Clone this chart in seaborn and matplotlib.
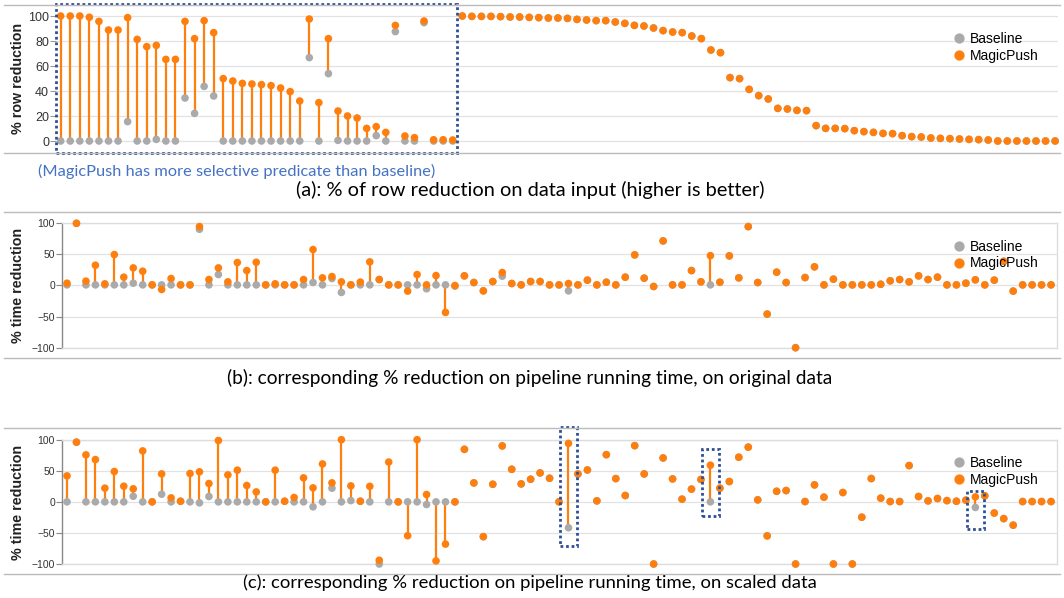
import numpy as np
import pandas as pd
import matplotlib.pyplot as plt
import seaborn as sns
from matplotlib.lines import Line2D
from matplotlib.patches import Rectangle

# ---- values (one entry per pipeline, 105 pipelines) ----
# (a) % row reduction
row_magic = [100, 100, 100, 99, 95.7, 88.8, 88.8, 98.7, 81.3, 75.5,
             76.5, 65.3, 65.3, 95.7, 81.9, 96.3, 86.7, 49.9, 48, 46.1,
             45.6, 45.1, 44.3, 42.4, 39.5, 32, 97.6, 30.7, 81.9, 24,
             20, 18.4, 10.1, 11.5, 6.9, 92.5, 4, 2.7, 96, 1,
             1, 0.8,
             100, 99.7, 99.7, 99.7, 99.5, 99.2, 99.2, 98.9, 98.7, 98.4,
             98.4, 98.1, 97.3, 96.8, 96.3, 96.3, 95.2, 94.1, 92.5, 92,
             90.4, 88.3, 87.2, 86.7, 84, 81.9, 72.8, 70.7, 50.7, 49.9,
             41.3, 36.3, 33.6, 26.1, 25.6, 24.5, 24.3, 12.3, 10.1, 10.1,
             9.9, 8.3, 7.5, 6.9, 6.1, 5.9, 4.3, 3.5, 3.2, 2.4,
             2.1, 1.9, 1.6, 1.3, 1.1, 0.8, 0, 0, 0, 0,
             0, 0, 0]
row_base = [0, 0, 0, 0, 0, 0, 0, 15.5, 0, 0,
            1.3, 0, 0, 34.4, 22.1, 43.7, 36, 0, 0, 0,
            0, 0, 0, 0, 0, 0, 66.7, 0, 53.9, 0.5,
            0, 0, 0, 4.3, 0, 87.5, 0, 0, 94.7, 0,
            0, 0,
            100, 99.7, 99.7, 99.7, 99.5, 99.2, 99.2, 98.9, 98.7, 98.4,
            98.4, 98.1, 97.3, 96.8, 96.3, 96.3, 95.2, 94.1, 92.5, 92,
            90.4, 88.3, 87.2, 86.7, 84, 81.9, 72.8, 70.7, 50.7, 49.9,
            41.3, 36.3, 33.6, 26.1, 25.6, 24.5, 24.3, 12.3, 10.1, 10.1,
            9.9, 8.3, 7.5, 6.9, 6.1, 5.9, 4.3, 3.5, 3.2, 2.4,
            2.1, 1.9, 1.6, 1.3, 1.1, 0.8, 0, 0, 0, 0,
            0, 0, 0]

# (b) % time reduction, original data
orig_magic = [3.7, 100, 7, 32.6, 2.7, 49.7, 13.4, 28.3, 23, 1,
              -6.4, 11.2, 1, 1, 94.7, 9.6, 28.3, 5.9, 36.9, 24,
              37.4, 1, 2.7, 1, 1, 9.6, 57.8, 12.3, 14.4, 5.9,
              1, 5.5, 38, 9.6, 1, 1, -9, 17.6, 1, 16,
              -43.3, 0, 15.5, 4.8, -8.6, 6.4, 20.9, 3.2, 1, 6.4,
              6.4, 1, 1, 3.2, 1, 8.6, 1, 5.3, 1, 13.4,
              49.2, 11.8, -1.6, 71.7, 1, 1, 24, 5.9, 48, 5.3,
              47.6, 12.3, 94.7, 4.8, -46, 21.4, 4.8, -100, 12.8, 30,
              1, 10.2, 1, 1, 1, 1, 2, 7.5, 9.6, 5.9,
              15.5, 9.6, 13.4, 1, 1, 3.7, 9.1, 1, 8.6, 39,
              -9, 1, 1, 1, 1]
orig_base = [1, 100, 1, 1, 1, 1, 1, 3.7, 1, 1,
             1, 1, 1, 1, 90.4, 1, 17.6, 1, 1, 1,
             1, 1, 1, 1, 1, 1, 4.8, 1, 11.2, -11.2,
             1, 1, 1, 9.6, 1, 1, 1, 1, -5.3, 1,
             1, -1, 15.5, 4.8, -8.6, 6.4, 15, 3.2, 1, 6.4,
             6.4, 1, 1, -8.6, 1, 8.6, 1, 5.3, 1, 13.4,
             49.2, 11.8, -1.6, 71.7, 1, 1, 24, 5.9, 1, 5.3,
             47.6, 12.3, 94.7, 4.8, -46, 21.4, 4.8, -100, 12.8, 30,
             1, 10.2, 1, 1, 1, 1, 2, 7.5, 9.6, 5.9,
             15.5, 9.6, 13.4, 1, 1, 3.7, 9.1, 1, 8.6, 39,
             -9, 1, 1, 1, 1]

# (c) % time reduction, scaled data
scaled_magic = [41.8, 96, 75.6, 68, 22, 48.8, 25.2, 21, 82, 0,
                45, 6.4, 1, 45.6, 48.3, 29.5, 98.7, 43.4, 51, 26.3,
                16, 0, 51, 1, 7, 38.6, 22.5, 61, 30.6, 100,
                25.7, 1, 25, -94, 64, 0, -54.5, 100, 11.8, -95,
                -68, 0, 84.5, 30.5, -56, 28.3, 90, 52.4, 28.9, 36.4,
                46.5, 38, 0, 94, 44.9, 51.3, 1.6, 75.9, 37.4, 10.2,
                90.4, 44.9, -100, 70.6, 36.9, 4.3, 20.5, 36, 59, 22,
                32.7, 71.8, 88, 3.2, -54.7, 17, 18.2, -100, 0.5, 27.3,
                7.5, -100, 15, -100, -24.7, 37.5, 5.9, 0.5, 0.5, 58.4,
                8.6, 1.6, 5.4, 2, 1, 2.7, 8, 9.7, -18, -27,
                -37.5, 0.5, 0.5, 0.5, 0.5]
scaled_base = [0, 96, 0, 0, 0, 0, 0, 9, 0, 0,
               12.3, 0, 1, 0, -1.6, 8.6, 0, 0, 0, 0,
               0, 0, 0, 1, 0, 0, -8, 0, 22, 0,
               2, 1, 0, -100, 0, 0, 0, 0, -4.3, 0,
               0, 0, 84.5, 30.5, -56, 28.3, 90, 52.4, 28.9, 36.4,
               46.5, 38, 0, -41.7, 44.9, 51.3, 1.6, 75.9, 37.4, 10.2,
               90.4, 44.9, -100, 70.6, 36.9, 4.3, 20.5, 36, 0, 22,
               32.7, 71.8, 88, 3.2, -54.7, 17, 18.2, -100, 0.5, 27.3,
               7.5, -100, 15, -100, -24.7, 37.5, 5.9, 0.5, 0.5, 58.4,
               8.6, 1.6, 5.4, 2, 1, 2.7, -9, 9.7, -18, -27,
               -37.5, 0.5, 0.5, 0.5, 0.5]

series_order = ["Baseline", "MagicPush"]
palette = {"Baseline": "#aaaaaa", "MagicPush": "#ff7f0e"}

note_a = "(MagicPush has more selective predicate than baseline)"
caption_a = "(a): % of row reduction on data input (higher is better)"
caption_b = "(b): corresponding % reduction on pipeline running time, on original data"
caption_c = "(c): corresponding % reduction on pipeline running time, on scaled data"

# highlighted pipelines in (c): (index, low, high)
boxes_c = [(53, -70.6, 120.4), (68, -22.3, 85), (96, -43.7, 17.5)]

plt.rcParams["font.family"] = ["Liberation Sans", "DejaVu Sans"]

W, H = 1064, 598
fig = plt.figure(figsize=(W / 100, H / 100), dpi=100)


def px_axes(left, top, right, bottom):
    return fig.add_axes([left / W, 1 - bottom / H, (right - left) / W, (bottom - top) / H])


def long_df(base, magic):
    idx = np.arange(len(magic))
    return pd.DataFrame({
        "pipeline": np.concatenate([idx, idx]),
        "value": list(base) + list(magic),
        "series": ["Baseline"] * len(base) + ["MagicPush"] * len(magic),
    })


def draw_panel(ax, base, magic, legend_y):
    ax.vlines(np.arange(len(magic)), base, magic, color=palette["MagicPush"],
              lw=1.6, zorder=2)
    sns.scatterplot(data=long_df(base, magic), x="pipeline", y="value",
                    hue="series", hue_order=series_order, palette=palette,
                    s=30, linewidth=0, zorder=3, clip_on=False, ax=ax)
    handles, labels = ax.get_legend_handles_labels()
    ax.legend(handles, labels, loc="center left", frameon=False,
              bbox_to_anchor=(946 / W, 1 - legend_y / H), bbox_transform=fig.transFigure,
              borderpad=0, handlelength=0.8, handletextpad=0.45, labelspacing=0.2,
              markerscale=1.35, fontsize=10)
    ax.set_xlabel("")
    ax.set_ylabel("")
    ax.set_xticks([])
    ax.grid(axis="y", color="#e2e2e2", lw=0.9, zorder=0)
    ax.set_axisbelow(True)


# ---- (a) ----
ax_a = px_axes(56, 5, 1058, 152)
draw_panel(ax_a, row_base, row_magic, 47.5)
ax_a.set_xlim(-0.49, 104.3)
ax_a.set_ylim(-8.8, 108.8)
ax_a.set_yticks([0, 20, 40, 60, 80, 100])
ax_a.tick_params(axis="y", labelsize=9, colors="#999999", labelcolor="#333333",
                 length=4, width=0.8, pad=1)
for s in ax_a.spines.values():
    s.set_visible(False)
ax_a.add_patch(Rectangle((-0.49, -9.6), 41.93, 119.2, fill=False, ec="#2f4f95",
                         lw=2, ls=(0, (1, 1)), clip_on=False, zorder=4))

# ---- (b) and (c) ----
for top, bottom, base, magic, leg_y in [(223.3, 347.7, orig_base, orig_magic, 255),
                                        (439.7, 564, scaled_base, scaled_magic, 471.5)]:
    ax = px_axes(62, top, 1057, bottom)
    draw_panel(ax, base, magic, leg_y)
    ax.set_xlim(-0.53, 104.63)
    ax.set_ylim(-100, 100)
    ax.set_yticks([-100, -50, 0, 50, 100])
    ax.tick_params(axis="y", labelsize=7.5, colors="#888888", labelcolor="#333333",
                   length=4, width=0.8, pad=1)
    for name, s in ax.spines.items():
        s.set_color("#dddddd")
        s.set_linewidth(1)
    ax.spines["left"].set_color("#888888")
    if top > 400:
        ax_c = ax

for idx, lo, hi in boxes_c:
    ax_c.add_patch(Rectangle((idx - 0.88, lo), 1.76, hi - lo, fill=False, ec="#2f4f95",
                             lw=2, ls=(0, (1, 1)), clip_on=False, zorder=4))

# separator lines across the whole figure
for y in [5, 152.5, 212, 358, 428, 574]:
    fig.add_artist(Line2D([4 / W, 1060 / W], [1 - y / H, 1 - y / H],
                          color="#bbbbbb", lw=1, transform=fig.transFigure))

# y labels
for y, txt in [(78, "% row reduction"), (285, "% time reduction"), (502, "% time reduction")]:
    fig.text(18 / W, 1 - y / H, txt, rotation=90, ha="center", va="center",
             fontsize=10.3, fontweight="bold", color="#222222")

# captions
fig.text(38 / W, 1 - 171.5 / H, note_a, ha="left", va="center", fontsize=11.8,
         color="#4472c4", family=["Lato", "DejaVu Sans"])
for y, size, txt in [(190, 14.4, caption_a), (378, 13.8, caption_b), (583, 13.3, caption_c)]:
    fig.text(530 / W, 1 - y / H, txt, ha="center", va="center", fontsize=size,
             color="black", family=["Lato", "DejaVu Sans"])

fig.savefig("out.png", dpi=100)
